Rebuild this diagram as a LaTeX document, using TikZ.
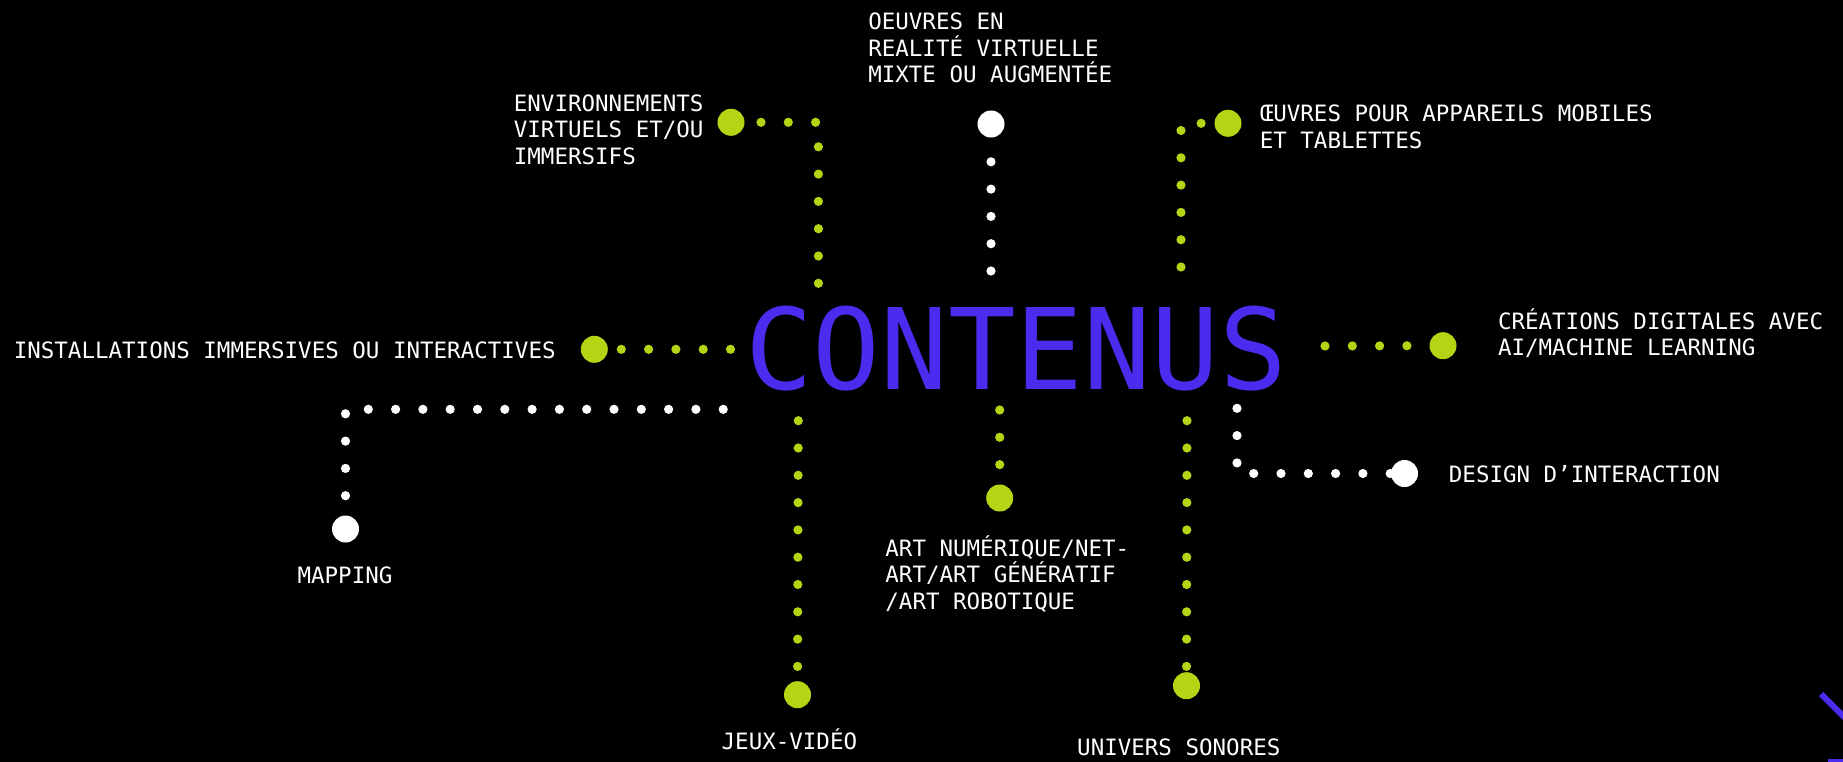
\documentclass[tikz,border=0pt]{standalone}
\usepackage{fontspec}
\usetikzlibrary{positioning}
\newfontfamily\monofont{DejaVu Sans Mono}
\definecolor{dotgreen}{HTML}{B4D414}
\definecolor{titleblue}{HTML}{4B2BEE}

\begin{document}
\begin{tikzpicture}[x=1pt, y=-1pt,
      legende/.style={text=white, inner sep=0pt, align=left,
        font=\monofont\fontsize{22.5}{26.8}\selectfont},
      bigdot/.style={circle, minimum size=27pt, inner sep=0pt},
      dotline/.style={line width=9.2pt, line cap=round,
        dash pattern=on 0pt off 27.3pt}]
    \useasboundingbox (0,0) rectangle (1843,761);
    \fill[black] (-6,-6) rectangle (1849,767);

    \node[text=titleblue, inner sep=0pt, anchor=base,
      font=\monofont\fontsize{112.5}{112.5}\selectfont] (contenus) at (1016,389) {CONTENUS};

    % grands points
    \node[bigdot, fill=dotgreen] (env) at (731,122.3) {};
    \node[bigdot, fill=white] (vr) at (991,124) {};
    \node[bigdot, fill=dotgreen] (mob) at (1228,123.3) {};
    \node[bigdot, fill=dotgreen] (ai) at (1443,345.7) {};
    \node[bigdot, fill=white] (design) at (1404.5,473.5) {};
    \node[bigdot, fill=dotgreen] (son) at (1186.5,685.7) {};
    \node[bigdot, fill=dotgreen] (art) at (999.7,498) {};
    \node[bigdot, fill=dotgreen] (jeux) at (797.5,694.7) {};
    \node[bigdot, fill=dotgreen] (inst) at (594.3,349.3) {};
    \node[bigdot, fill=white] (map) at (345.5,529) {};

    % departs des pointilles
    \coordinate (env-s) at (818.4,283.3);
    \coordinate (vr-s) at (991,271);
    \coordinate (mob-s) at (1181,267);
    \coordinate (ai-s) at (1325,346);
    \coordinate (design-s) at (1237,408.3);
    \coordinate (son-s) at (1187,420.7);
    \coordinate (art-s) at (999.7,410);
    \coordinate (jeux-s) at (798.3,420.7);
    \coordinate (inst-s) at (730.5,349.3);
    \coordinate (map-s) at (723.2,409.3);

    \draw[dotline, dotgreen] (env-s) |- (env);
    \draw[dotline, white] (vr-s) -- (vr);
    \draw[dotline, dotgreen] (mob-s) |- (mob);
    \draw[dotline, dotgreen] (ai-s) -- (ai);
    \draw[dotline, white] (design-s) |- (design);
    \draw[dotline, dotgreen] (son-s) -- (son);
    \draw[dotline, dotgreen] (art-s) -- (art);
    \draw[dotline, dotgreen] (jeux-s) -- (jeux);
    \draw[dotline, dotgreen] (inst-s) -- (inst);
    \draw[dotline, white] (map-s) -| (map);

    % textes (base = derniere ligne)
    \node[legende, anchor=base west] (env-txt) at (513.7,164.6)
      {ENVIRONNEMENTS\\VIRTUELS ET/OU\\IMMERSIFS};
    \node[legende, anchor=base west] (vr-txt) at (868.1,82.9)
      {OEUVRES EN\\REALITÉ VIRTUELLE\\MIXTE OU AUGMENTÉE};
    \node[legende, anchor=base west] (mob-txt) at (1259.6,148.5)
      {ŒUVRES POUR APPAREILS MOBILES\\ET TABLETTES};
    \node[legende, anchor=base west] (ai-txt) at (1497.8,355.8)
      {CRÉATIONS DIGITALES AVEC\\AI/MACHINE LEARNING};
    \node[legende, anchor=base west] (design-txt) at (1448.7,482.3) {DESIGN D’INTERACTION};
    \node[legende, anchor=base west] (inst-txt) at (13.6,358.3)
      {INSTALLATIONS IMMERSIVES OU INTERACTIVES};
    \node[legende, anchor=base] (map-txt) at (345,583.3) {MAPPING};
    \node[legende, anchor=base west] (art-txt) at (885.2,609.6)
      {ART NUMÉRIQUE/NET-\\ART/ART GÉNÉRATIF\\/ART ROBOTIQUE};
    \node[legende, anchor=base] (jeux-txt) at (789.4,749.3) {JEUX-VIDÉO};
    \node[legende, anchor=base] (son-txt) at (1178.8,755) {UNIVERS SONORES};

    % fragment en bas a droite
    \begin{scope}
      \clip (0,0) rectangle (1843,761);
      \draw[titleblue, line width=6pt] (1821,694) -- (1870,743);
      \fill[titleblue] (1828,759) rectangle (1850,765);
    \end{scope}
  \end{tikzpicture}
\end{document}
